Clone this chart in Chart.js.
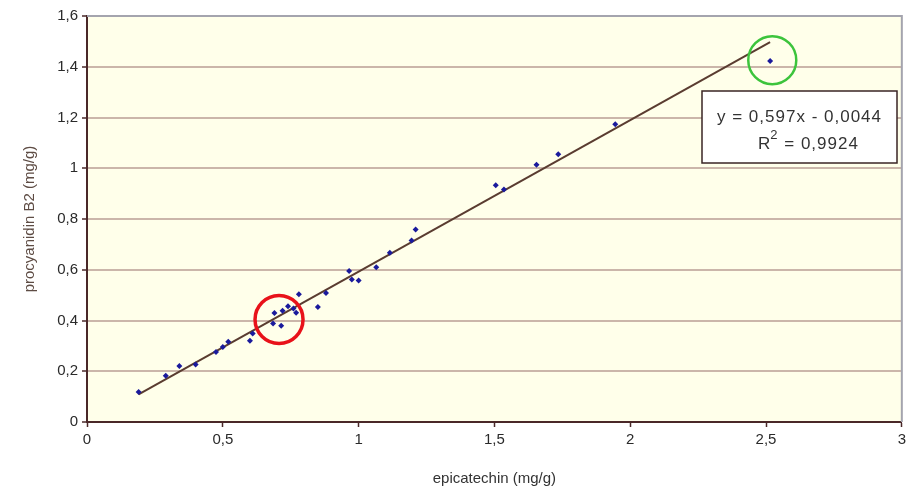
<!DOCTYPE html>
<html>
<head>
<meta charset="utf-8">
<script src="https://cdn.jsdelivr.net/npm/chart.js@4.4.1/dist/chart.umd.min.js"></script>
<style>
  body { margin: 0; background: #fff; }
  canvas { display: block; }
</style>
</head>
<body>
<canvas id="chart" width="910" height="492"></canvas>
<script>
// measured samples (mg/g)
var epicatechin = [0.19, 0.29, 0.34, 0.40, 0.475, 0.50, 0.52, 0.60, 0.61, 0.685, 0.715, 0.69, 0.72, 0.74, 0.76, 0.77, 0.78, 0.85, 0.88,
                   0.965, 0.975, 1.0, 1.065, 1.115, 1.195, 1.21, 1.505, 1.535, 1.655, 1.735, 1.945, 2.515];
var procyanidinB2 = [0.118, 0.182, 0.221, 0.227, 0.276, 0.296, 0.316, 0.320, 0.349, 0.388, 0.379, 0.430, 0.438, 0.456, 0.447, 0.431, 0.503, 0.453, 0.508,
                     0.595, 0.562, 0.558, 0.610, 0.667, 0.715, 0.759, 0.933, 0.916, 1.014, 1.055, 1.173, 1.423];

// linear fit shown in the box
var fitSlope = 0.597;
var fitIntercept = -0.0044;
var fitR2 = 0.9924;

var xTicks = [0, 0.5, 1, 1.5, 2, 2.5, 3];
var yTicks = [0, 0.2, 0.4, 0.6, 0.8, 1, 1.2, 1.4, 1.6];

// highlighted samples (circled)
var circleX = [0.707, 2.523];
var circleY = [0.404, 1.426];
var circleColors = ['#e8121a', '#3cc43c'];

function commaNum(v) {
  return String(Math.round(v * 10000) / 10000).replace('.', ',');
}

var points = epicatechin.map(function (x, i) { return { x: x, y: procyanidinB2[i] }; });
var xMin = Math.min.apply(null, epicatechin);
var xMax = Math.max.apply(null, epicatechin);
var fitLine = [
  { x: xMin, y: fitSlope * xMin + fitIntercept },
  { x: xMax, y: fitSlope * xMax + fitIntercept }
];

var plotDecor = {
  id: 'plotDecor',
  beforeDraw: function (chart) {
    var a = chart.chartArea, ctx = chart.ctx;
    ctx.save();
    ctx.fillStyle = '#ffffea';
    ctx.fillRect(a.left, a.top, a.right - a.left, a.bottom - a.top);
    ctx.restore();
  },
  afterDatasetsDraw: function (chart) {
    var a = chart.chartArea, ctx = chart.ctx;
    var xs = chart.scales.x, ys = chart.scales.y;
    ctx.save();
    // top / right frame
    ctx.strokeStyle = '#a4a4ae';
    ctx.lineWidth = 2;
    ctx.beginPath();
    ctx.moveTo(a.left, a.top);
    ctx.lineTo(a.right, a.top);
    ctx.lineTo(a.right, a.bottom);
    ctx.stroke();

    // equation box
    var bx = 702, by = 91, bw = 195, bh = 72;
    ctx.fillStyle = '#ffffff';
    ctx.fillRect(bx, by, bw, bh);
    ctx.strokeStyle = '#3a2424';
    ctx.lineWidth = 1.5;
    ctx.strokeRect(bx, by, bw, bh);
    ctx.fillStyle = '#333333';
    ctx.letterSpacing = '1px';
    ctx.font = '17px "Liberation Sans", Arial, sans-serif';
    ctx.textBaseline = 'middle';
    ctx.textAlign = 'left';
    var sign = fitIntercept < 0 ? ' - ' : ' + ';
    ctx.fillText('y = ' + commaNum(fitSlope) + 'x' + sign + commaNum(Math.abs(fitIntercept)), 717, 117);
    var rx = 758;
    ctx.fillText('R', rx, 144);
    var rw = ctx.measureText('R').width;
    ctx.font = '13px "Liberation Sans", Arial, sans-serif';
    ctx.fillText('2', rx + rw - 1, 135);
    var sw = ctx.measureText('2').width;
    ctx.font = '17px "Liberation Sans", Arial, sans-serif';
    ctx.fillText(' = ' + commaNum(fitR2), rx + rw + sw - 1, 144);
    ctx.letterSpacing = '0px';

    // circled samples
    circleX.forEach(function (cx, i) {
      ctx.beginPath();
      ctx.strokeStyle = circleColors[i];
      ctx.lineWidth = i === 0 ? 3.5 : 2.5;
      ctx.arc(xs.getPixelForValue(cx), ys.getPixelForValue(circleY[i]), 24, 0, Math.PI * 2);
      ctx.stroke();
    });
    ctx.restore();
  }
};

var tickFont = { family: '"Liberation Sans", Arial, sans-serif', size: 15 };

new Chart(document.getElementById('chart'), {
  type: 'scatter',
  data: {
    datasets: [{
      label: 'samples',
      data: points,
      pointStyle: 'rectRot',
      pointRadius: 3,
      backgroundColor: '#1a1a9c',
      borderColor: '#1a1a9c',
      borderWidth: 0,
      order: 1
    }, {
      type: 'line',
      label: 'fit',
      data: fitLine,
      borderColor: '#5a3c30',
      borderWidth: 2,
      pointRadius: 0,
      fill: false,
      order: 2
    }]
  },
  options: {
    responsive: false,
    animation: false,
    layout: { padding: { top: 16, right: 7, left: 0, bottom: 0 } },
    plugins: {
      legend: { display: false },
      tooltip: { enabled: false }
    },
    scales: {
      x: {
        type: 'linear',
        min: 0,
        max: 3,
        afterBuildTicks: function (s) { s.ticks = xTicks.map(function (v) { return { value: v }; }); },
        afterFit: function (s) { s.height = 70; },
        ticks: {
          font: tickFont,
          color: '#2a2a2a',
          padding: 4,
          maxRotation: 0,
          callback: function (v) { return commaNum(v); }
        },
        grid: { drawOnChartArea: false, tickLength: 5, tickColor: '#4a2828', tickWidth: 1.5 },
        border: { color: '#4a2828', width: 2 },
        title: {
          display: true,
          text: 'epicatechin (mg/g)',
          color: '#333333',
          font: tickFont,
          padding: { top: 0, bottom: 4 }
        }
      },
      y: {
        min: 0,
        max: 1.6,
        afterBuildTicks: function (s) { s.ticks = yTicks.map(function (v) { return { value: v }; }); },
        afterFit: function (s) { s.width = 87; },
        ticks: {
          font: tickFont,
          color: '#2a2a2a',
          padding: 4,
          callback: function (v) { return commaNum(v); }
        },
        grid: { color: '#cbb6aa', lineWidth: 2, tickLength: 5, tickColor: '#4a2828', tickWidth: 1.5 },
        border: { color: '#4a2828', width: 2 },
        title: {
          display: true,
          text: 'procyanidin B2 (mg/g)',
          color: '#5e4c44',
          font: tickFont,
          padding: { top: 21, bottom: 0 }
        }
      }
    }
  },
  plugins: [plotDecor]
});
</script>
</body>
</html>
